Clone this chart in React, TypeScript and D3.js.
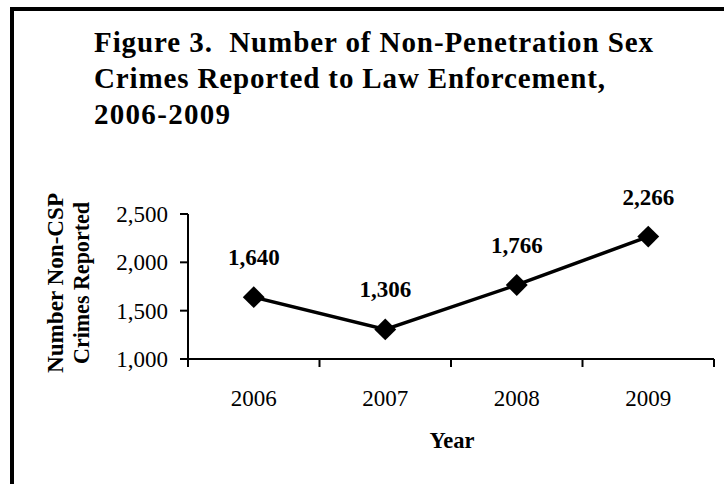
import React, { useEffect, useRef } from "react";
import { select, scaleBand, scaleLinear, line, symbol, symbolSquare, format } from "d3";

const years = ["2006", "2007", "2008", "2009"];
const crimes = [1640, 1306, 1766, 2266];
const yTicks = [1000, 1500, 2000, 2500];
const titleLines = [
  "Figure 3.  Number of Non-Penetration Sex",
  "Crimes Reported to Law Enforcement,",
  "2006-2009",
];
const titleWidths = [559, 511, 136];
const yTitleLines = ["Number Non-CSP", "Crimes Reported"];
const yTitleWidths = [180, 162];

const FONT = "'Liberation Serif', 'Times New Roman', serif";

export default function App() {
  const svgRef = useRef<SVGSVGElement>(null);

  useEffect(() => {
    const svg = select(svgRef.current);
    svg.selectAll("*").remove();

    const W = 724, H = 484;
    const plot = { left: 188, right: 714, top: 214, bottom: 359 };

    svg.append("rect").attr("width", W).attr("height", H).attr("fill", "#fff");

    // frame (cropped on right and bottom)
    svg.append("rect")
      .attr("x", 12).attr("y", 9)
      .attr("width", W + 20).attr("height", H + 20)
      .attr("fill", "none").attr("stroke", "#000").attr("stroke-width", 4);

    svg.selectAll(".title")
      .data(titleLines)
      .join("text")
      .attr("x", 94)
      .attr("y", (_, i) => 52 + i * 36)
      .attr("font-family", FONT)
      .attr("font-weight", "bold")
      .attr("font-size", 29)
      .attr("textLength", (_, i) => titleWidths[i])
      .attr("lengthAdjust", "spacing")
      .style("white-space", "pre")
      .text((d) => d);

    const x = scaleBand().domain(years).range([plot.left, plot.right]).padding(0);
    const y = scaleLinear().domain([1000, 2500]).range([plot.bottom, plot.top]);

    const g = svg.append("g");

    // y axis
    g.append("line")
      .attr("x1", plot.left).attr("x2", plot.left)
      .attr("y1", plot.top).attr("y2", plot.bottom)
      .attr("stroke", "#000").attr("stroke-width", 2);
    g.selectAll(".ytick")
      .data(yTicks)
      .join("line")
      .attr("x1", plot.left - 8).attr("x2", plot.left)
      .attr("y1", (d) => y(d)).attr("y2", (d) => y(d))
      .attr("stroke", "#000").attr("stroke-width", 2);
    g.selectAll(".ylab")
      .data(yTicks)
      .join("text")
      .attr("x", plot.left - 20)
      .attr("y", (d) => y(d) + 8)
      .attr("text-anchor", "end")
      .attr("font-family", FONT)
      .attr("font-size", 23)
      .text((d) => format(",")(d));

    // x axis
    g.append("line")
      .attr("x1", plot.left).attr("x2", plot.right)
      .attr("y1", plot.bottom).attr("y2", plot.bottom)
      .attr("stroke", "#000").attr("stroke-width", 2);
    const bounds = years.map((d) => x(d) as number).concat([plot.right]);
    g.selectAll(".xtick")
      .data(bounds)
      .join("line")
      .attr("x1", (d) => d).attr("x2", (d) => d)
      .attr("y1", plot.bottom).attr("y2", plot.bottom + 8)
      .attr("stroke", "#000").attr("stroke-width", 2);
    g.selectAll(".xlab")
      .data(years)
      .join("text")
      .attr("x", (d) => (x(d) as number) + x.bandwidth() / 2)
      .attr("y", 406)
      .attr("text-anchor", "middle")
      .attr("font-family", FONT)
      .attr("font-size", 23)
      .text((d) => d);

    // axis titles
    g.append("text")
      .attr("x", 452).attr("y", 448)
      .attr("text-anchor", "middle")
      .attr("font-family", FONT)
      .attr("font-weight", "bold")
      .attr("font-size", 22.5)
      .text("Year");
    g.selectAll(".ytitle")
      .data(yTitleLines)
      .join("text")
      .attr("transform", (_, i) => `translate(${63 + i * 26}, 283) rotate(-90)`)
      .attr("text-anchor", "middle")
      .attr("font-family", FONT)
      .attr("font-weight", "bold")
      .attr("font-size", 24)
      .attr("textLength", (_, i) => yTitleWidths[i])
      .attr("lengthAdjust", "spacingAndGlyphs")
      .text((d) => d);

    // series
    const pts = years.map((d, i) => ({ year: d, value: crimes[i] }));
    const cx = (d) => (x(d.year) as number) + x.bandwidth() / 2;
    g.append("path")
      .datum(pts)
      .attr("d", line().x(cx).y((d) => y(d.value)))
      .attr("fill", "none")
      .attr("stroke", "#000")
      .attr("stroke-width", 3.5);
    g.selectAll(".marker")
      .data(pts)
      .join("path")
      .attr("d", symbol().type(symbolSquare).size(240))
      .attr("transform", (d) => `translate(${cx(d)}, ${y(d.value)}) rotate(45)`)
      .attr("fill", "#000");
    g.selectAll(".label")
      .data(pts)
      .join("text")
      .attr("x", cx)
      .attr("y", (d) => y(d.value) - 32)
      .attr("text-anchor", "middle")
      .attr("font-family", FONT)
      .attr("font-weight", "bold")
      .attr("font-size", 23)
      .text((d) => format(",")(d.value));
  }, []);

  return (
    <svg
      ref={svgRef}
      width={724}
      height={484}
      style={{ position: "absolute", left: 0, top: 0 }}
    ></svg>
  );
}
